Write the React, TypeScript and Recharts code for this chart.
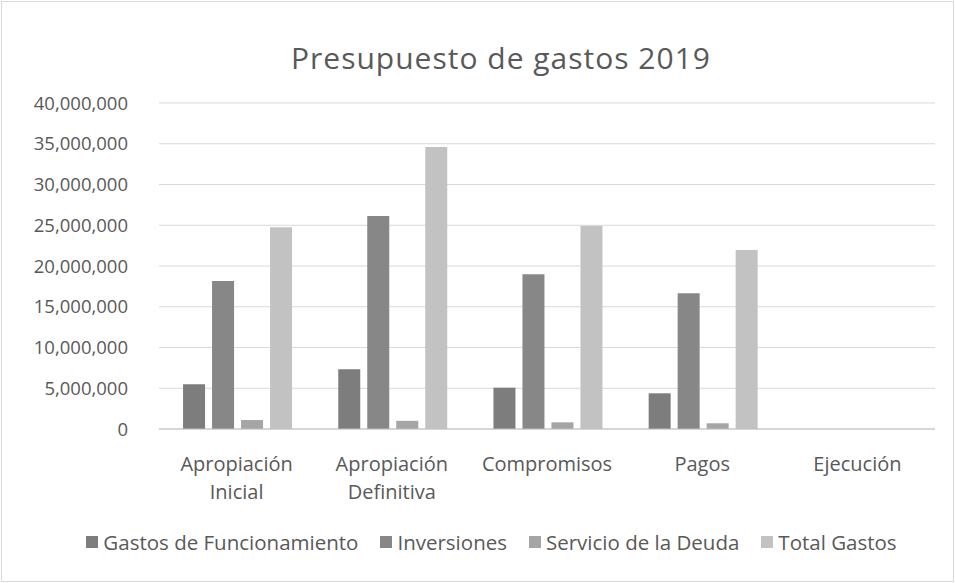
import React from 'react';
import { BarChart, Bar, XAxis, YAxis, CartesianGrid, Legend } from 'recharts';

const categories = ['Apropiación Inicial', 'Apropiación Definitiva', 'Compromisos', 'Pagos', 'Ejecución'];
const gastosFuncionamiento = [5500000, 7330000, 5070000, 4380000, 0];
const inversiones = [18150000, 26150000, 18980000, 16650000, 0];
const servicioDeuda = [1100000, 1000000, 820000, 700000, 0];
const totalGastos = [24750000, 34600000, 24950000, 21950000, 0];
const yTicks = [0, 5000000, 10000000, 15000000, 20000000, 25000000, 30000000, 35000000, 40000000];

const data = categories.map((c, i) => ({
  name: c,
  gf: gastosFuncionamiento[i],
  inv: inversiones[i],
  sd: servicioDeuda[i],
  tg: totalGastos[i],
}));

const FONT = '"Open Sans", sans-serif';
const TXT = '#595959';

const XTick = (props: any) => {
  const { x, y, payload } = props;
  const words: string[] = String(payload.value).split(' ');
  return (
    <text x={x} y={y} textAnchor="middle" fill={TXT} fontSize={20} fontFamily={FONT}>
      {words.map((w, i) => (
        <tspan key={i} x={x} dy={i === 0 ? 34 : 28}>{w}</tspan>
      ))}
    </text>
  );
};

const LegendContent = (props: any) => {
  const { payload } = props;
  return (
    <div style={{ display: 'flex', justifyContent: 'center', alignItems: 'center', fontFamily: FONT, fontSize: 20.5, color: TXT, height: 30 }}>
      {(payload || []).map((p: any, i: number) => (
        <div key={i} style={{ display: 'flex', alignItems: 'center', marginRight: i < payload.length - 1 ? 22 : 0 }}>
          <span style={{ display: 'inline-block', width: 12, height: 12, background: p.color, marginRight: 5 }} />
          <span style={{ whiteSpace: 'nowrap' }}>{p.value}</span>
        </div>
      ))}
    </div>
  );
};

export default function App() {
  return (
    <div style={{ position: 'absolute', left: 0, top: 0, width: 955, height: 583, background: '#fff', fontFamily: FONT }}>
      <div style={{ position: 'absolute', left: 1, top: 1, width: 951, height: 579, border: '1px solid #d9d9d9' }} />
      <div style={{ position: 'absolute', left: 0, width: 1002, top: 37, textAlign: 'center', fontSize: 30, letterSpacing: 1, color: TXT, lineHeight: 'normal', whiteSpace: 'nowrap' }}>
        Presupuesto de gastos 2019
      </div>
      <BarChart
        width={955}
        height={583}
        data={data}
        margin={{ top: 103, right: 20, left: 0, bottom: 26 }}
        barCategoryGap="15.5%"
        barGap={7}
      >
        <CartesianGrid vertical={false} stroke="#d9d9d9" />
        <XAxis
          dataKey="name"
          height={98}
          tick={<XTick />}
          tickLine={false}
          axisLine={{ stroke: '#bfbfbf' }}
          interval={0}
        />
        <YAxis
          width={159}
          domain={[0, 40000000]}
          ticks={yTicks}
          tickFormatter={(v: number) => v.toLocaleString('en-US')}
          tick={{ fill: TXT, fontSize: 18.5, fontFamily: FONT }}
          tickLine={false}
          axisLine={false}
          tickMargin={25}
        />
        <Legend
          verticalAlign="bottom"
          height={30}
          wrapperStyle={{ left: 24 }}
          content={<LegendContent />}
        />
        <Bar dataKey="gf" name="Gastos de Funcionamiento" fill="#7d7d7d" isAnimationActive={false} />
        <Bar dataKey="inv" name="Inversiones" fill="#878787" isAnimationActive={false} />
        <Bar dataKey="sd" name="Servicio de la Deuda" fill="#a5a5a5" isAnimationActive={false} />
        <Bar dataKey="tg" name="Total Gastos" fill="#c2c2c2" isAnimationActive={false} />
      </BarChart>
    </div>
  );
}
